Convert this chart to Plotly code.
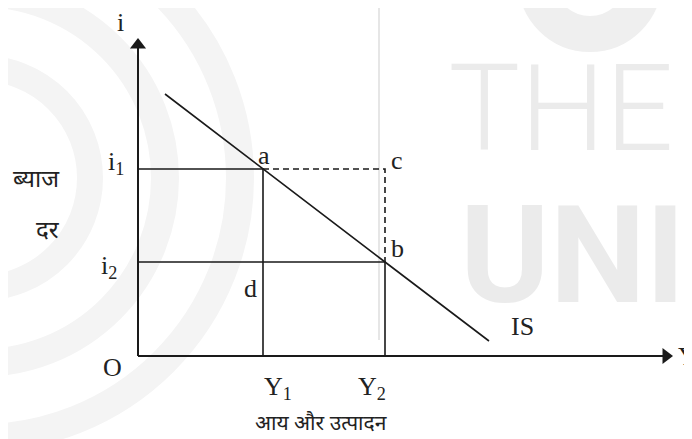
import plotly.graph_objects as go

# ---- data (economic coordinates: output Y on x, interest rate i on y) ----
y_levels = [125, 247]            # Y1, Y2
y_level_labels = ["Y<sub>1</sub>", "Y<sub>2</sub>"]
i_levels = [187, 94]             # i1, i2
i_level_labels = ["i<sub>1</sub>", "i<sub>2</sub>"]
is_x = [27, 125, 247, 351]       # IS curve
is_y = [262, 187, 94, 15]
x_axis_end = 535
y_axis_end = 318

PAGE_OFF = 8                     # default body margin of the html page
W, H = 692, 439
ORIGIN_PAGE = (138, 356)
ORIGIN_PX = (ORIGIN_PAGE[0] - PAGE_OFF, ORIGIN_PAGE[1] - PAGE_OFF)
x_range = [-ORIGIN_PX[0], W - ORIGIN_PX[0]]
y_range = [ORIGIN_PX[1] - H, ORIGIN_PX[1]]

BLACK = "#1a1a1a"
TXT = "#222222"
SERIF = "Liberation Serif, Times New Roman, serif"
HINDI = "Noto Sans Devanagari, Lohit Devanagari, Mangal, Noto Sans, sans-serif"
WMFONT = "Roboto, Liberation Sans, sans-serif"
WM = "#ebebeb"
WM2 = "#f4f4f4"


def px(xp, yp):
    """page pixel -> data coordinate (used only for the faint watermark)"""
    return xp - ORIGIN_PAGE[0], ORIGIN_PAGE[1] - yp


fig = go.Figure()

# ---- faint watermark background (drawn first, below everything) ----
tx, ty = px(561, 120)
fig.add_trace(go.Scatter(x=[tx], y=[ty], mode="text", text=["THE"],
                         textposition="middle center",
                         textfont=dict(family=WMFONT, size=120, color=WM, weight=300),
                         hoverinfo="skip"))
ux, uy = px(460, 268)
fig.add_trace(go.Scatter(x=[ux], y=[uy], mode="text", text=["UNIV"],
                         textposition="middle right",
                         textfont=dict(family=WMFONT, size=136, color=WM, weight=700),
                         hoverinfo="skip"))

shapes = []
for r, w in [(110, 26), (185, 28), (260, 28)]:
    cx, cy = px(-20, 178)
    shapes.append(dict(type="circle", xref="x", yref="y",
                       x0=cx - r, x1=cx + r, y0=cy - r, y1=cy + r,
                       line=dict(color=WM2, width=w), layer="below"))
bx, by = px(590, -20)
shapes.append(dict(type="circle", xref="x", yref="y",
                   x0=bx - 54, x1=bx + 54, y0=by - 54, y1=by + 54,
                   line=dict(color="#efefef", width=36), layer="below"))
lx0, ly0 = px(379, 0)
lx1, ly1 = px(379, 340)
shapes.append(dict(type="line", xref="x", yref="y", x0=lx0, x1=lx1, y0=ly0, y1=ly1,
                   line=dict(color="#e6e6e6", width=2), layer="below"))
fig.update_layout(shapes=shapes)

Y1, Y2 = y_levels
i1, i2 = i_levels

# axes
fig.add_trace(go.Scatter(x=[0, 0], y=[0, y_axis_end - 6], mode="lines",
                         line=dict(color=BLACK, width=2), hoverinfo="skip"))
fig.add_trace(go.Scatter(x=[0, x_axis_end - 6], y=[0, 0], mode="lines",
                         line=dict(color=BLACK, width=2), hoverinfo="skip"))
fig.add_trace(go.Scatter(x=[0], y=[y_axis_end - 7], mode="markers",
                         marker=dict(symbol="triangle-up", size=14, color=BLACK),
                         hoverinfo="skip"))
fig.add_trace(go.Scatter(x=[x_axis_end - 7], y=[0], mode="markers",
                         marker=dict(symbol="triangle-right", size=14, color=BLACK),
                         hoverinfo="skip"))

# solid guide lines
fig.add_trace(go.Scatter(x=[0, Y1, Y1], y=[i1, i1, 0], mode="lines",
                         line=dict(color=BLACK, width=1.6), hoverinfo="skip"))
fig.add_trace(go.Scatter(x=[0, Y2, Y2], y=[i2, i2, 0], mode="lines",
                         line=dict(color=BLACK, width=1.6), hoverinfo="skip"))
# dashed a -> c -> b
fig.add_trace(go.Scatter(x=[Y1, Y2, Y2], y=[i1, i1, i2], mode="lines",
                         line=dict(color=BLACK, width=1.6, dash="6px,4px"),
                         hoverinfo="skip"))
# IS curve
fig.add_trace(go.Scatter(x=is_x, y=is_y, mode="lines",
                         line=dict(color=BLACK, width=1.6), hoverinfo="skip"))


def lab(x, y, text, dx=0, dy=0, size=26, font=SERIF, xanchor="center"):
    fig.add_annotation(x=x, y=y, text=text, showarrow=False, xshift=dx, yshift=dy,
                       font=dict(family=font, size=size, color=TXT),
                       xanchor=xanchor, yanchor="middle")


lab(0, y_axis_end, "i", dx=-18, dy=16)
lab(0, i1, i_level_labels[0], dx=-22, dy=6)
lab(0, i2, i_level_labels[1], dx=-29, dy=-5)
lab(0, 0, "O", dx=-26, dy=-11)
lab(Y1, 0, y_level_labels[0], dx=15, dy=-32)
lab(Y2, 0, y_level_labels[1], dx=-13, dy=-32)
lab(Y1, i1, "a", dx=1, dy=14)
lab(Y2, i1, "c", dx=12, dy=9)
lab(Y2, i2, "b", dx=12, dy=14)
lab(Y1, i2, "d", dx=-13, dy=-26)
lab(is_x[-1], is_y[-1], "IS", dx=33, dy=15)
lab(x_axis_end, 0, "Y", dx=14, dy=0)

lab(0, i1, "ब्याज", dx=-76, dy=-12, size=24, font=HINDI, xanchor="right")
lab(0, i2, "दर", dx=-76, dy=30, size=24, font=HINDI, xanchor="right")
lab((Y1 + Y2) / 2 - 3, 0, "आय और उत्पादन", dy=-69, size=21, font=HINDI)

fig.update_layout(
    width=W, height=H, autosize=False,
    margin=dict(l=0, r=0, t=0, b=0),
    paper_bgcolor="white", plot_bgcolor="white",
    showlegend=False,
    xaxis=dict(range=x_range, visible=False, fixedrange=True),
    yaxis=dict(range=y_range, visible=False, fixedrange=True),
)

fig.write_html("out.html")
